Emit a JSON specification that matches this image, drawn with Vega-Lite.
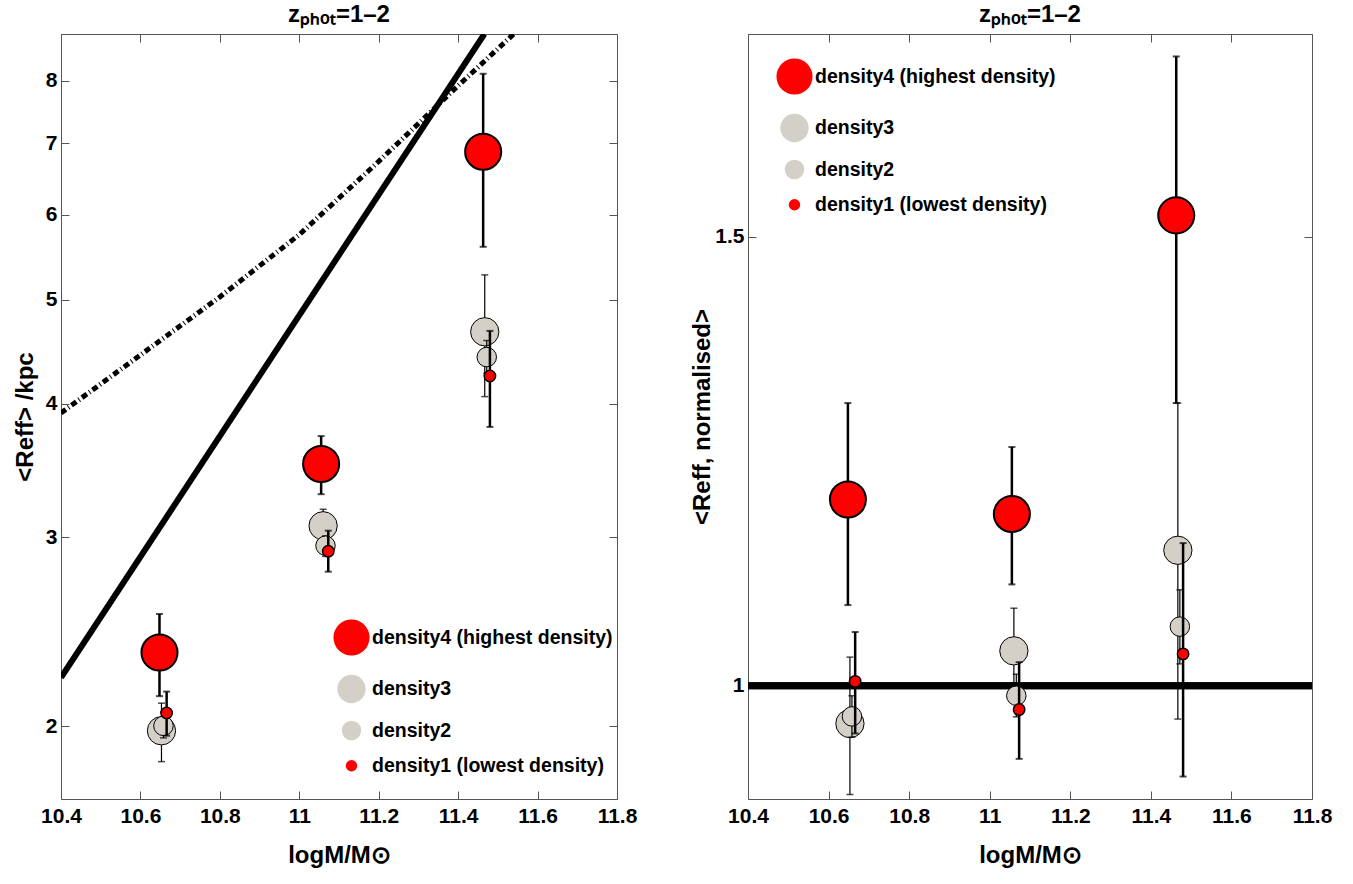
{
  "$schema": "https://vega.github.io/schema/vega-lite/v6.json",
  "padding": {"left": 12, "top": 2, "right": 5, "bottom": 5},
  "background": "white",
  "config": {
    "font": "'Liberation Sans Narrow', 'Liberation Sans', sans-serif",
    "view": {"stroke": "#555", "strokeWidth": 1},
    "axis": {"grid": false, "domain": false, "labelFlush": false, "tickColor": "#555", "tickSize": -8, "tickWidth": 1, "labelFont": "'Liberation Sans Narrow', 'Liberation Sans', sans-serif", "labelFontSize": 21, "labelFontWeight": "bold", "labelColor": "black", "titleFont": "'Liberation Sans Narrow', 'Liberation Sans', sans-serif", "titleFontSize": 24, "titleFontWeight": "bold", "titleColor": "black"},
    "axisY": {"labelPadding": 12, "titlePadding": 8},
    "axisX": {"labelPadding": 14, "titlePadding": 17},
    "title": {"font": "'Liberation Sans Narrow', 'Liberation Sans', sans-serif", "fontSize": 24, "fontWeight": "bold", "color": "black", "offset": 7}
  },
  "datasets": {
    "left": [
      {"m": 10.648, "r": 2.343, "lo": 2.133, "hi": 2.545, "density": "density4 (highest density)"},
      {"m": 11.055, "r": 3.513, "lo": 3.292, "hi": 3.730, "density": "density4 (highest density)"},
      {"m": 11.463, "r": 6.871, "lo": 5.602, "hi": 8.125, "density": "density4 (highest density)"},
      {"m": 10.653, "r": 1.980, "lo": 1.853, "hi": 2.101, "density": "density3"},
      {"m": 11.060, "r": 3.076, "lo": 2.970, "hi": 3.187, "density": "density3"},
      {"m": 11.467, "r": 4.667, "lo": 4.060, "hi": 5.274, "density": "density3"},
      {"m": 10.658, "r": 2.001, "lo": 1.950, "hi": 2.060, "density": "density2"},
      {"m": 11.066, "r": 2.947, "lo": 2.880, "hi": 3.010, "density": "density2"},
      {"m": 11.472, "r": 4.420, "lo": 4.270, "hi": 4.580, "density": "density2"},
      {"m": 10.666, "r": 2.057, "lo": 1.959, "hi": 2.154, "density": "density1 (lowest density)"},
      {"m": 11.073, "r": 2.912, "lo": 2.787, "hi": 3.044, "density": "density1 (lowest density)"},
      {"m": 11.480, "r": 4.244, "lo": 3.804, "hi": 4.676, "density": "density1 (lowest density)"}
    ],
    "right": [
      {"m": 10.648, "r": 1.2075, "lo": 1.090, "hi": 1.315, "density": "density4 (highest density)"},
      {"m": 11.055, "r": 1.1915, "lo": 1.113, "hi": 1.266, "density": "density4 (highest density)"},
      {"m": 11.463, "r": 1.524, "lo": 1.315, "hi": 1.701, "density": "density4 (highest density)"},
      {"m": 10.653, "r": 0.958, "lo": 0.879, "hi": 1.032, "density": "density3"},
      {"m": 11.060, "r": 1.039, "lo": 0.992, "hi": 1.0865, "density": "density3"},
      {"m": 11.467, "r": 1.151, "lo": 0.963, "hi": 1.315, "density": "density3"},
      {"m": 10.658, "r": 0.966, "lo": 0.943, "hi": 0.989, "density": "density2"},
      {"m": 11.066, "r": 0.989, "lo": 0.9655, "hi": 1.013, "density": "density2"},
      {"m": 11.472, "r": 1.066, "lo": 1.0245, "hi": 1.107, "density": "density2"},
      {"m": 10.666, "r": 1.005, "lo": 0.947, "hi": 1.060, "density": "density1 (lowest density)"},
      {"m": 11.073, "r": 0.9736, "lo": 0.9187, "hi": 1.0264, "density": "density1 (lowest density)"},
      {"m": 11.480, "r": 1.0356, "lo": 0.899, "hi": 1.159, "density": "density1 (lowest density)"}
    ],
    "curves": [
      {"m": 10.4, "r": 2.22, "curve": "solid"},
      {"m": 11.466, "r": 8.85, "curve": "solid"},
      {"m": 10.4, "r": 3.92, "curve": "dashdot"},
      {"m": 10.6, "r": 4.44, "curve": "dashdot"},
      {"m": 10.8, "r": 5.03, "curve": "dashdot"},
      {"m": 11.0, "r": 5.75, "curve": "dashdot"},
      {"m": 11.2, "r": 6.73, "curve": "dashdot"},
      {"m": 11.4, "r": 7.92, "curve": "dashdot"},
      {"m": 11.54, "r": 8.85, "curve": "dashdot"},
      {"m": 10.4, "r": 1, "curve": "unity"},
      {"m": 11.8, "r": 1, "curve": "unity"}
    ]
  },
  "spacing": 52,
  "hconcat": [
    {
      "width": 556,
      "height": 765,
      "title": {"text": "zₚₕₒₜ=1–2", "fontSize": 24},
      "data": {"name": "left"},
      "layer": [
        {
          "data": {"name": "curves"},
          "transform": [{"filter": "datum.curve === 'solid'"}],
          "mark": {"type": "line", "color": "black", "strokeWidth": 6, "clip": true},
          "encoding": {
            "x": {"field": "m", "type": "quantitative", "scale": {"domain": [10.4, 11.8], "nice": false, "zero": false}, "axis": {"values": [10.4, 10.6, 10.8, 11, 11.2, 11.4, 11.6, 11.8], "format": "~g", "title": "logM/M⊙"}},
            "y": {"field": "r", "type": "quantitative", "scale": {"type": "log", "domain": [1.71, 8.85], "nice": false}, "axis": {"values": [2, 3, 4, 5, 6, 7, 8], "format": "~g", "title": "<Reff> /kpc"}}
          }
        },
        {
          "data": {"name": "curves"},
          "transform": [{"filter": "datum.curve === 'dashdot'"}],
          "mark": {"type": "line", "color": "black", "strokeWidth": 5, "strokeDash": [6, 3, 1, 3], "strokeCap": "butt", "clip": true},
          "encoding": {
            "x": {"field": "m", "type": "quantitative", "axis": {"orient": "top", "values": [10.4, 10.6, 10.8, 11, 11.2, 11.4, 11.6, 11.8], "labels": false, "title": null}},
            "y": {"field": "r", "type": "quantitative", "axis": {"orient": "right", "values": [2, 3, 4, 5, 6, 7, 8], "labels": false, "title": null}}
          }
        },
        {
          "transform": [{"filter": "datum.density === 'density4 (highest density)'"}],
          "layer": [
            {"mark": {"type": "rule", "color": "black", "strokeWidth": 2.5}, "encoding": {"x": {"field": "m", "type": "quantitative", "axis": null}, "y": {"field": "lo", "type": "quantitative", "axis": null}, "y2": {"field": "hi"}}},
            {"mark": {"type": "tick", "orient": "horizontal", "color": "black", "size": 7, "thickness": 2}, "encoding": {"x": {"field": "m", "type": "quantitative", "axis": null}, "y": {"field": "lo", "type": "quantitative", "axis": null}}},
            {"mark": {"type": "tick", "orient": "horizontal", "color": "black", "size": 7, "thickness": 2}, "encoding": {"x": {"field": "m", "type": "quantitative", "axis": null}, "y": {"field": "hi", "type": "quantitative", "axis": null}}},
            {"mark": {"type": "point", "shape": "circle", "filled": true, "stroke": "black", "opacity": 1}, "encoding": {
              "x": {"field": "m", "type": "quantitative", "axis": null},
              "y": {"field": "r", "type": "quantitative", "axis": null},
              "fill": {"field": "density", "type": "ordinal", "scale": {"type": "ordinal", "domain": ["density4 (highest density)", "density3", "density2", "density1 (lowest density)"], "range": ["#ff0000", "#d4d0c8", "#d4d0c8", "#ff0000"]}, "legend": {"title": null, "orient": "none", "legendX": 271, "legendY": 584, "rowPadding": 12, "labelFontSize": 19.5, "labelFontWeight": "bold", "labelColor": "black", "labelOffset": 1, "labelLimit": 500, "symbolStrokeColor": "black", "symbolStrokeWidth": 1.5, "symbolType": "circle", "padding": 0}},
              "size": {"field": "density", "type": "ordinal", "scale": {"type": "ordinal", "domain": ["density4 (highest density)", "density3", "density2", "density1 (lowest density)"], "range": [1300, 800, 380, 130]}, "legend": {"title": null, "orient": "none", "legendX": 271, "legendY": 584, "rowPadding": 12, "labelFontSize": 19.5, "labelFontWeight": "bold", "labelColor": "black", "labelOffset": 1, "labelLimit": 500, "symbolStrokeColor": "black", "symbolStrokeWidth": 1.5, "symbolType": "circle", "padding": 0}},
              "strokeWidth": {"field": "density", "type": "ordinal", "scale": {"type": "ordinal", "domain": ["density4 (highest density)", "density3", "density2", "density1 (lowest density)"], "range": [2, 1, 1, 1.5]}, "legend": null}
            }}
          ]
        },
        {
          "transform": [{"filter": "datum.density === 'density3'"}],
          "layer": [
            {"mark": {"type": "rule", "color": "black", "strokeWidth": 1.2}, "encoding": {"x": {"field": "m", "type": "quantitative", "axis": null}, "y": {"field": "lo", "type": "quantitative", "axis": null}, "y2": {"field": "hi"}}},
            {"mark": {"type": "tick", "orient": "horizontal", "color": "black", "size": 7, "thickness": 1.5}, "encoding": {"x": {"field": "m", "type": "quantitative", "axis": null}, "y": {"field": "lo", "type": "quantitative", "axis": null}}},
            {"mark": {"type": "tick", "orient": "horizontal", "color": "black", "size": 7, "thickness": 1.5}, "encoding": {"x": {"field": "m", "type": "quantitative", "axis": null}, "y": {"field": "hi", "type": "quantitative", "axis": null}}},
            {"mark": {"type": "point", "shape": "circle", "filled": true, "stroke": "black", "opacity": 1}, "encoding": {
              "x": {"field": "m", "type": "quantitative", "axis": null},
              "y": {"field": "r", "type": "quantitative", "axis": null},
              "fill": {"field": "density", "type": "ordinal", "scale": {"type": "ordinal", "domain": ["density4 (highest density)", "density3", "density2", "density1 (lowest density)"], "range": ["#ff0000", "#d4d0c8", "#d4d0c8", "#ff0000"]}},
              "size": {"field": "density", "type": "ordinal", "scale": {"type": "ordinal", "domain": ["density4 (highest density)", "density3", "density2", "density1 (lowest density)"], "range": [1300, 800, 380, 130]}},
              "strokeWidth": {"field": "density", "type": "ordinal", "scale": {"type": "ordinal", "domain": ["density4 (highest density)", "density3", "density2", "density1 (lowest density)"], "range": [2, 1, 1, 1.5]}, "legend": null}
            }}
          ]
        },
        {
          "transform": [{"filter": "datum.density === 'density2'"}],
          "layer": [
            {"mark": {"type": "rule", "color": "black", "strokeWidth": 1.2}, "encoding": {"x": {"field": "m", "type": "quantitative", "axis": null}, "y": {"field": "lo", "type": "quantitative", "axis": null}, "y2": {"field": "hi"}}},
            {"mark": {"type": "tick", "orient": "horizontal", "color": "black", "size": 7, "thickness": 1.5}, "encoding": {"x": {"field": "m", "type": "quantitative", "axis": null}, "y": {"field": "lo", "type": "quantitative", "axis": null}}},
            {"mark": {"type": "tick", "orient": "horizontal", "color": "black", "size": 7, "thickness": 1.5}, "encoding": {"x": {"field": "m", "type": "quantitative", "axis": null}, "y": {"field": "hi", "type": "quantitative", "axis": null}}},
            {"mark": {"type": "point", "shape": "circle", "filled": true, "stroke": "black", "opacity": 1}, "encoding": {
              "x": {"field": "m", "type": "quantitative", "axis": null},
              "y": {"field": "r", "type": "quantitative", "axis": null},
              "fill": {"field": "density", "type": "ordinal", "scale": {"type": "ordinal", "domain": ["density4 (highest density)", "density3", "density2", "density1 (lowest density)"], "range": ["#ff0000", "#d4d0c8", "#d4d0c8", "#ff0000"]}},
              "size": {"field": "density", "type": "ordinal", "scale": {"type": "ordinal", "domain": ["density4 (highest density)", "density3", "density2", "density1 (lowest density)"], "range": [1300, 800, 380, 130]}},
              "strokeWidth": {"field": "density", "type": "ordinal", "scale": {"type": "ordinal", "domain": ["density4 (highest density)", "density3", "density2", "density1 (lowest density)"], "range": [2, 1, 1, 1.5]}, "legend": null}
            }}
          ]
        },
        {
          "transform": [{"filter": "datum.density === 'density1 (lowest density)'"}],
          "layer": [
            {"mark": {"type": "rule", "color": "black", "strokeWidth": 2.5}, "encoding": {"x": {"field": "m", "type": "quantitative", "axis": null}, "y": {"field": "lo", "type": "quantitative", "axis": null}, "y2": {"field": "hi"}}},
            {"mark": {"type": "tick", "orient": "horizontal", "color": "black", "size": 7, "thickness": 2}, "encoding": {"x": {"field": "m", "type": "quantitative", "axis": null}, "y": {"field": "lo", "type": "quantitative", "axis": null}}},
            {"mark": {"type": "tick", "orient": "horizontal", "color": "black", "size": 7, "thickness": 2}, "encoding": {"x": {"field": "m", "type": "quantitative", "axis": null}, "y": {"field": "hi", "type": "quantitative", "axis": null}}},
            {"mark": {"type": "point", "shape": "circle", "filled": true, "stroke": "black", "opacity": 1}, "encoding": {
              "x": {"field": "m", "type": "quantitative", "axis": null},
              "y": {"field": "r", "type": "quantitative", "axis": null},
              "fill": {"field": "density", "type": "ordinal", "scale": {"type": "ordinal", "domain": ["density4 (highest density)", "density3", "density2", "density1 (lowest density)"], "range": ["#ff0000", "#d4d0c8", "#d4d0c8", "#ff0000"]}},
              "size": {"field": "density", "type": "ordinal", "scale": {"type": "ordinal", "domain": ["density4 (highest density)", "density3", "density2", "density1 (lowest density)"], "range": [1300, 800, 380, 130]}},
              "strokeWidth": {"field": "density", "type": "ordinal", "scale": {"type": "ordinal", "domain": ["density4 (highest density)", "density3", "density2", "density1 (lowest density)"], "range": [2, 1, 1, 1.5]}, "legend": null}
            }}
          ]
        }
      ],
      "resolve": {"axis": {"x": "independent", "y": "independent"}}
    },
    {
      "width": 564,
      "height": 765,
      "title": {"text": "zₚₕₒₜ=1–2", "fontSize": 24},
      "data": {"name": "right"},
      "layer": [
        {
          "data": {"name": "curves"},
          "transform": [{"filter": "datum.curve === 'unity'"}],
          "mark": {"type": "line", "color": "black", "strokeWidth": 7, "clip": true},
          "encoding": {
            "x": {"field": "m", "type": "quantitative", "scale": {"domain": [10.4, 11.8], "nice": false, "zero": false}, "axis": {"values": [10.4, 10.6, 10.8, 11, 11.2, 11.4, 11.6, 11.8], "format": "~g", "title": "logM/M⊙"}},
            "y": {"field": "r", "type": "quantitative", "scale": {"domain": [0.874, 1.726], "nice": false, "zero": false}, "axis": {"values": [1, 1.5], "format": "~g", "title": "<Reff, normalised>", "titlePadding": 0}}
          }
        },
        {
          "data": {"name": "curves"},
          "transform": [{"filter": "datum.curve === 'unity'"}],
          "mark": {"type": "line", "color": "black", "strokeWidth": 7, "clip": true},
          "encoding": {
            "x": {"field": "m", "type": "quantitative", "axis": {"orient": "top", "values": [10.4, 10.6, 10.8, 11, 11.2, 11.4, 11.6, 11.8], "labels": false, "title": null}},
            "y": {"field": "r", "type": "quantitative", "axis": {"orient": "right", "values": [1, 1.5], "labels": false, "title": null}}
          }
        },
        {
          "transform": [{"filter": "datum.density === 'density4 (highest density)'"}],
          "layer": [
            {"mark": {"type": "rule", "color": "black", "strokeWidth": 2.5}, "encoding": {"x": {"field": "m", "type": "quantitative", "axis": null}, "y": {"field": "lo", "type": "quantitative", "axis": null}, "y2": {"field": "hi"}}},
            {"mark": {"type": "tick", "orient": "horizontal", "color": "black", "size": 7, "thickness": 2}, "encoding": {"x": {"field": "m", "type": "quantitative", "axis": null}, "y": {"field": "lo", "type": "quantitative", "axis": null}}},
            {"mark": {"type": "tick", "orient": "horizontal", "color": "black", "size": 7, "thickness": 2}, "encoding": {"x": {"field": "m", "type": "quantitative", "axis": null}, "y": {"field": "hi", "type": "quantitative", "axis": null}}},
            {"mark": {"type": "point", "shape": "circle", "filled": true, "stroke": "black", "opacity": 1}, "encoding": {
              "x": {"field": "m", "type": "quantitative", "axis": null},
              "y": {"field": "r", "type": "quantitative", "axis": null},
              "fill": {"field": "density", "type": "ordinal", "scale": {"type": "ordinal", "domain": ["density4 (highest density)", "density3", "density2", "density1 (lowest density)"], "range": ["#ff0000", "#d4d0c8", "#d4d0c8", "#ff0000"]}, "legend": {"title": null, "orient": "none", "legendX": 27, "legendY": 23, "rowPadding": 12, "labelFontSize": 19.5, "labelFontWeight": "bold", "labelColor": "black", "labelOffset": 1, "labelLimit": 500, "symbolStrokeColor": "black", "symbolStrokeWidth": 1.5, "symbolType": "circle", "padding": 0}},
              "size": {"field": "density", "type": "ordinal", "scale": {"type": "ordinal", "domain": ["density4 (highest density)", "density3", "density2", "density1 (lowest density)"], "range": [1300, 800, 380, 130]}, "legend": {"title": null, "orient": "none", "legendX": 27, "legendY": 23, "rowPadding": 12, "labelFontSize": 19.5, "labelFontWeight": "bold", "labelColor": "black", "labelOffset": 1, "labelLimit": 500, "symbolStrokeColor": "black", "symbolStrokeWidth": 1.5, "symbolType": "circle", "padding": 0}},
              "strokeWidth": {"field": "density", "type": "ordinal", "scale": {"type": "ordinal", "domain": ["density4 (highest density)", "density3", "density2", "density1 (lowest density)"], "range": [2, 1, 1, 1.5]}, "legend": null}
            }}
          ]
        },
        {
          "transform": [{"filter": "datum.density === 'density3'"}],
          "layer": [
            {"mark": {"type": "rule", "color": "black", "strokeWidth": 1.2}, "encoding": {"x": {"field": "m", "type": "quantitative", "axis": null}, "y": {"field": "lo", "type": "quantitative", "axis": null}, "y2": {"field": "hi"}}},
            {"mark": {"type": "tick", "orient": "horizontal", "color": "black", "size": 7, "thickness": 1.5}, "encoding": {"x": {"field": "m", "type": "quantitative", "axis": null}, "y": {"field": "lo", "type": "quantitative", "axis": null}}},
            {"mark": {"type": "tick", "orient": "horizontal", "color": "black", "size": 7, "thickness": 1.5}, "encoding": {"x": {"field": "m", "type": "quantitative", "axis": null}, "y": {"field": "hi", "type": "quantitative", "axis": null}}},
            {"mark": {"type": "point", "shape": "circle", "filled": true, "stroke": "black", "opacity": 1}, "encoding": {
              "x": {"field": "m", "type": "quantitative", "axis": null},
              "y": {"field": "r", "type": "quantitative", "axis": null},
              "fill": {"field": "density", "type": "ordinal", "scale": {"type": "ordinal", "domain": ["density4 (highest density)", "density3", "density2", "density1 (lowest density)"], "range": ["#ff0000", "#d4d0c8", "#d4d0c8", "#ff0000"]}},
              "size": {"field": "density", "type": "ordinal", "scale": {"type": "ordinal", "domain": ["density4 (highest density)", "density3", "density2", "density1 (lowest density)"], "range": [1300, 800, 380, 130]}},
              "strokeWidth": {"field": "density", "type": "ordinal", "scale": {"type": "ordinal", "domain": ["density4 (highest density)", "density3", "density2", "density1 (lowest density)"], "range": [2, 1, 1, 1.5]}, "legend": null}
            }}
          ]
        },
        {
          "transform": [{"filter": "datum.density === 'density2'"}],
          "layer": [
            {"mark": {"type": "rule", "color": "black", "strokeWidth": 1.2}, "encoding": {"x": {"field": "m", "type": "quantitative", "axis": null}, "y": {"field": "lo", "type": "quantitative", "axis": null}, "y2": {"field": "hi"}}},
            {"mark": {"type": "tick", "orient": "horizontal", "color": "black", "size": 7, "thickness": 1.5}, "encoding": {"x": {"field": "m", "type": "quantitative", "axis": null}, "y": {"field": "lo", "type": "quantitative", "axis": null}}},
            {"mark": {"type": "tick", "orient": "horizontal", "color": "black", "size": 7, "thickness": 1.5}, "encoding": {"x": {"field": "m", "type": "quantitative", "axis": null}, "y": {"field": "hi", "type": "quantitative", "axis": null}}},
            {"mark": {"type": "point", "shape": "circle", "filled": true, "stroke": "black", "opacity": 1}, "encoding": {
              "x": {"field": "m", "type": "quantitative", "axis": null},
              "y": {"field": "r", "type": "quantitative", "axis": null},
              "fill": {"field": "density", "type": "ordinal", "scale": {"type": "ordinal", "domain": ["density4 (highest density)", "density3", "density2", "density1 (lowest density)"], "range": ["#ff0000", "#d4d0c8", "#d4d0c8", "#ff0000"]}},
              "size": {"field": "density", "type": "ordinal", "scale": {"type": "ordinal", "domain": ["density4 (highest density)", "density3", "density2", "density1 (lowest density)"], "range": [1300, 800, 380, 130]}},
              "strokeWidth": {"field": "density", "type": "ordinal", "scale": {"type": "ordinal", "domain": ["density4 (highest density)", "density3", "density2", "density1 (lowest density)"], "range": [2, 1, 1, 1.5]}, "legend": null}
            }}
          ]
        },
        {
          "transform": [{"filter": "datum.density === 'density1 (lowest density)'"}],
          "layer": [
            {"mark": {"type": "rule", "color": "black", "strokeWidth": 2.5}, "encoding": {"x": {"field": "m", "type": "quantitative", "axis": null}, "y": {"field": "lo", "type": "quantitative", "axis": null}, "y2": {"field": "hi"}}},
            {"mark": {"type": "tick", "orient": "horizontal", "color": "black", "size": 7, "thickness": 2}, "encoding": {"x": {"field": "m", "type": "quantitative", "axis": null}, "y": {"field": "lo", "type": "quantitative", "axis": null}}},
            {"mark": {"type": "tick", "orient": "horizontal", "color": "black", "size": 7, "thickness": 2}, "encoding": {"x": {"field": "m", "type": "quantitative", "axis": null}, "y": {"field": "hi", "type": "quantitative", "axis": null}}},
            {"mark": {"type": "point", "shape": "circle", "filled": true, "stroke": "black", "opacity": 1}, "encoding": {
              "x": {"field": "m", "type": "quantitative", "axis": null},
              "y": {"field": "r", "type": "quantitative", "axis": null},
              "fill": {"field": "density", "type": "ordinal", "scale": {"type": "ordinal", "domain": ["density4 (highest density)", "density3", "density2", "density1 (lowest density)"], "range": ["#ff0000", "#d4d0c8", "#d4d0c8", "#ff0000"]}},
              "size": {"field": "density", "type": "ordinal", "scale": {"type": "ordinal", "domain": ["density4 (highest density)", "density3", "density2", "density1 (lowest density)"], "range": [1300, 800, 380, 130]}},
              "strokeWidth": {"field": "density", "type": "ordinal", "scale": {"type": "ordinal", "domain": ["density4 (highest density)", "density3", "density2", "density1 (lowest density)"], "range": [2, 1, 1, 1.5]}, "legend": null}
            }}
          ]
        }
      ],
      "resolve": {"axis": {"x": "independent", "y": "independent"}}
    }
  ],
  "resolve": {"scale": {"fill": "independent", "size": "independent", "strokeWidth": "independent"}}
}
